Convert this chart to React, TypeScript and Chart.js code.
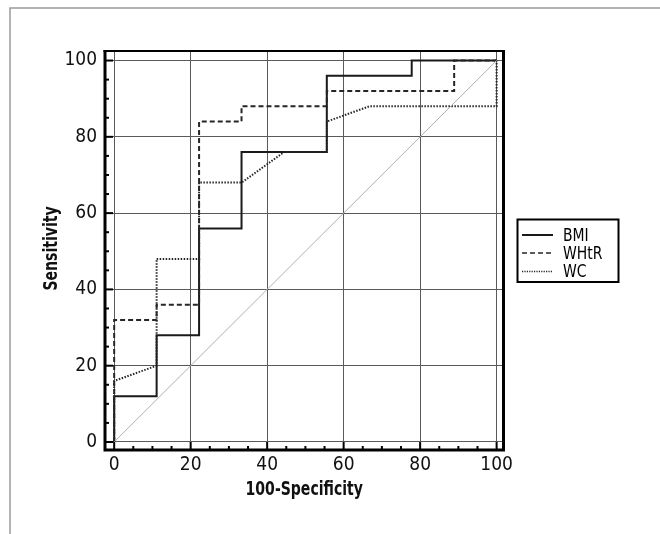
import React, { useEffect, useRef } from "react";
import { Chart, registerables } from "chart.js";

Chart.register(...registerables);

// ROC curve vertices: 100-Specificity (x) and Sensitivity (y)
const bmiX = [0, 0, 11.1, 11.1, 22.2, 22.2, 33.3, 33.3, 55.6, 55.6, 77.8, 77.8, 100];
const bmiY = [0, 12, 12, 28, 28, 56, 56, 76, 76, 96, 96, 100, 100];
const whtrX = [0, 0, 11.1, 11.1, 22.2, 22.2, 33.3, 33.3, 55.6, 55.6, 88.9, 88.9, 100];
const whtrY = [0, 32, 32, 36, 36, 84, 84, 88, 88, 92, 92, 100, 100];
const wcX = [0, 0, 11.1, 11.1, 22.2, 22.2, 33.3, 44.4, 55.6, 55.6, 66.7, 100, 100];
const wcY = [0, 16, 20, 48, 48, 68, 68, 76, 76, 84, 88, 88, 100];
const diagX = [0, 100];
const diagY = [0, 100];

const seriesNames = ["BMI", "WHtR", "WC"];
const tickValues = [0, 20, 40, 60, 80, 100];
const minorStep = 5;
const xTitle = "100-Specificity";
const yTitle = "Sensitivity";

const FONT = "'DejaVu Sans Condensed', 'Liberation Sans Narrow', 'Liberation Sans', Arial, sans-serif";
const NARROW = 0.78;

const zip = (xs: number[], ys: number[]) => xs.map((x, i) => ({ x, y: ys[i] }));

const dashes = [[], [5, 3], [1.5, 1.5]];
const colors = ["#1a1a1a", "#262626", "#262626"];

const framePlugin = {
  id: "frameTicksLegend",
  beforeDraw(chart: any) {
    const ctx = chart.ctx;
    ctx.save();
    ctx.fillStyle = "#ffffff";
    ctx.fillRect(0, 0, chart.width, chart.height);
    ctx.strokeStyle = "#9a9a9a";
    ctx.lineWidth = 1.5;
    ctx.beginPath();
    ctx.moveTo(10, chart.height);
    ctx.lineTo(10, 8);
    ctx.lineTo(chart.width, 8);
    ctx.stroke();
    ctx.restore();
  },
  afterDatasetsDraw(chart: any) {
    const ctx = chart.ctx;
    const { left, right, top, bottom } = chart.chartArea;
    const xs = chart.scales.x;
    const ys = chart.scales.y;
    ctx.save();
    ctx.strokeStyle = "#000";
    ctx.setLineDash([]);
    ctx.lineWidth = 2;
    for (let v = 0; v <= 100; v += minorStep) {
      const len = v % 20 === 0 ? 8 : 4;
      const py = ys.getPixelForValue(v);
      ctx.beginPath();
      ctx.moveTo(left, py);
      ctx.lineTo(left + len, py);
      ctx.stroke();
      const px = xs.getPixelForValue(v);
      ctx.beginPath();
      ctx.moveTo(px, bottom);
      ctx.lineTo(px, bottom - len);
      ctx.stroke();
    }
    ctx.lineWidth = 3;
    ctx.beginPath();
    ctx.moveTo(left, top - 1);
    ctx.lineTo(left, bottom);
    ctx.lineTo(right, bottom);
    ctx.lineTo(right, top - 1);
    ctx.stroke();
    ctx.lineWidth = 2;
    ctx.beginPath();
    ctx.moveTo(left - 1.5, top);
    ctx.lineTo(right + 1.5, top);
    ctx.stroke();

    // axis titles (condensed)
    ctx.fillStyle = "#111";
    ctx.font = `bold 20px ${FONT}`;
    ctx.textAlign = "center";
    ctx.textBaseline = "middle";
    ctx.save();
    ctx.translate((left + right) / 2, 490);
    ctx.scale(NARROW, 1);
    ctx.fillText(xTitle, 0, 0);
    ctx.restore();
    ctx.save();
    ctx.translate(52, (top + bottom) / 2 - 2);
    ctx.rotate(-Math.PI / 2);
    ctx.scale(NARROW, 1);
    ctx.fillText(yTitle, 0, 0);
    ctx.restore();

    // legend
    const lx = 517.5, ly = 219.5, lw = 101, lh = 62.5;
    ctx.lineWidth = 2;
    ctx.strokeStyle = "#000";
    ctx.strokeRect(lx, ly, lw, lh);
    const rows = [235, 253, 271.5];
    ctx.font = `18px ${FONT}`;
    ctx.textBaseline = "middle";
    ctx.textAlign = "left";
    ctx.fillStyle = "#000";
    seriesNames.forEach((name, i) => {
      ctx.lineWidth = i === 0 ? 2 : 1.6;
      ctx.setLineDash(i === 2 ? [1.2, 1.2] : dashes[i]);
      ctx.strokeStyle = colors[i];
      ctx.beginPath();
      ctx.moveTo(522, rows[i]);
      ctx.lineTo(553, rows[i]);
      ctx.stroke();
      ctx.save();
      ctx.translate(563, rows[i] + 1);
      ctx.scale(0.86, 1);
      ctx.fillText(name, 0, 0);
      ctx.restore();
    });
    ctx.restore();
  },
};

export default function App() {
  const ref = useRef<HTMLCanvasElement | null>(null);
  useEffect(() => {
    document.body.style.margin = "0";
    const canvas = ref.current;
    if (!canvas) return;
    const chart = new Chart(canvas, {
      type: "line",
      data: {
        datasets: [
          { label: "diag", data: zip(diagX, diagY), borderColor: "#b0b0b0", borderWidth: 1, pointRadius: 0, fill: false },
          { label: seriesNames[2], data: zip(wcX, wcY), borderColor: colors[2], borderWidth: 2, borderDash: dashes[2], pointRadius: 0, fill: false },
          { label: seriesNames[1], data: zip(whtrX, whtrY), borderColor: colors[1], borderWidth: 2, borderDash: dashes[1], pointRadius: 0, fill: false },
          { label: seriesNames[0], data: zip(bmiX, bmiY), borderColor: colors[0], borderWidth: 2, pointRadius: 0, fill: false },
        ],
      },
      options: {
        animation: false,
        responsive: false,
        devicePixelRatio: 1,
        layout: { padding: { left: 0, top: 51, right: 156.5, bottom: 0 } },
        plugins: { legend: { display: false }, tooltip: { enabled: false } },
        elements: { line: { tension: 0 } },
        scales: {
          x: {
            type: "linear",
            min: -2.4,
            max: 101.8,
            afterBuildTicks: (s: any) => { s.ticks = tickValues.map((v) => ({ value: v })); },
            afterFit: (s: any) => { s.height = 84; },
            border: { display: false },
            grid: { color: "#5a5a5a", lineWidth: 1, borderDash: [1, 2], drawTicks: false },
            ticks: { padding: 4, color: "#111", font: { family: FONT, size: 19 }, maxRotation: 0 },
            title: { display: false, text: xTitle },
          },
          y: {
            type: "linear",
            min: -2.1,
            max: 102.5,
            afterBuildTicks: (s: any) => { s.ticks = tickValues.map((v) => ({ value: v })); },
            afterFit: (s: any) => { s.width = 105; },
            border: { display: false },
            grid: { color: "#5a5a5a", lineWidth: 1, borderDash: [1, 2], drawTicks: false },
            ticks: { padding: 8, color: "#111", font: { family: FONT, size: 19 } },
            title: { display: false, text: yTitle },
          },
        },
      },
      plugins: [framePlugin],
    } as any);
    return () => chart.destroy();
  }, []);
  return (
    <div style={{ position: "absolute", left: 0, top: 0, width: 660, height: 534 }}>
      <canvas ref={ref} width={660} height={534} style={{ width: 660, height: 534, display: "block" }} />
    </div>
  );
}
